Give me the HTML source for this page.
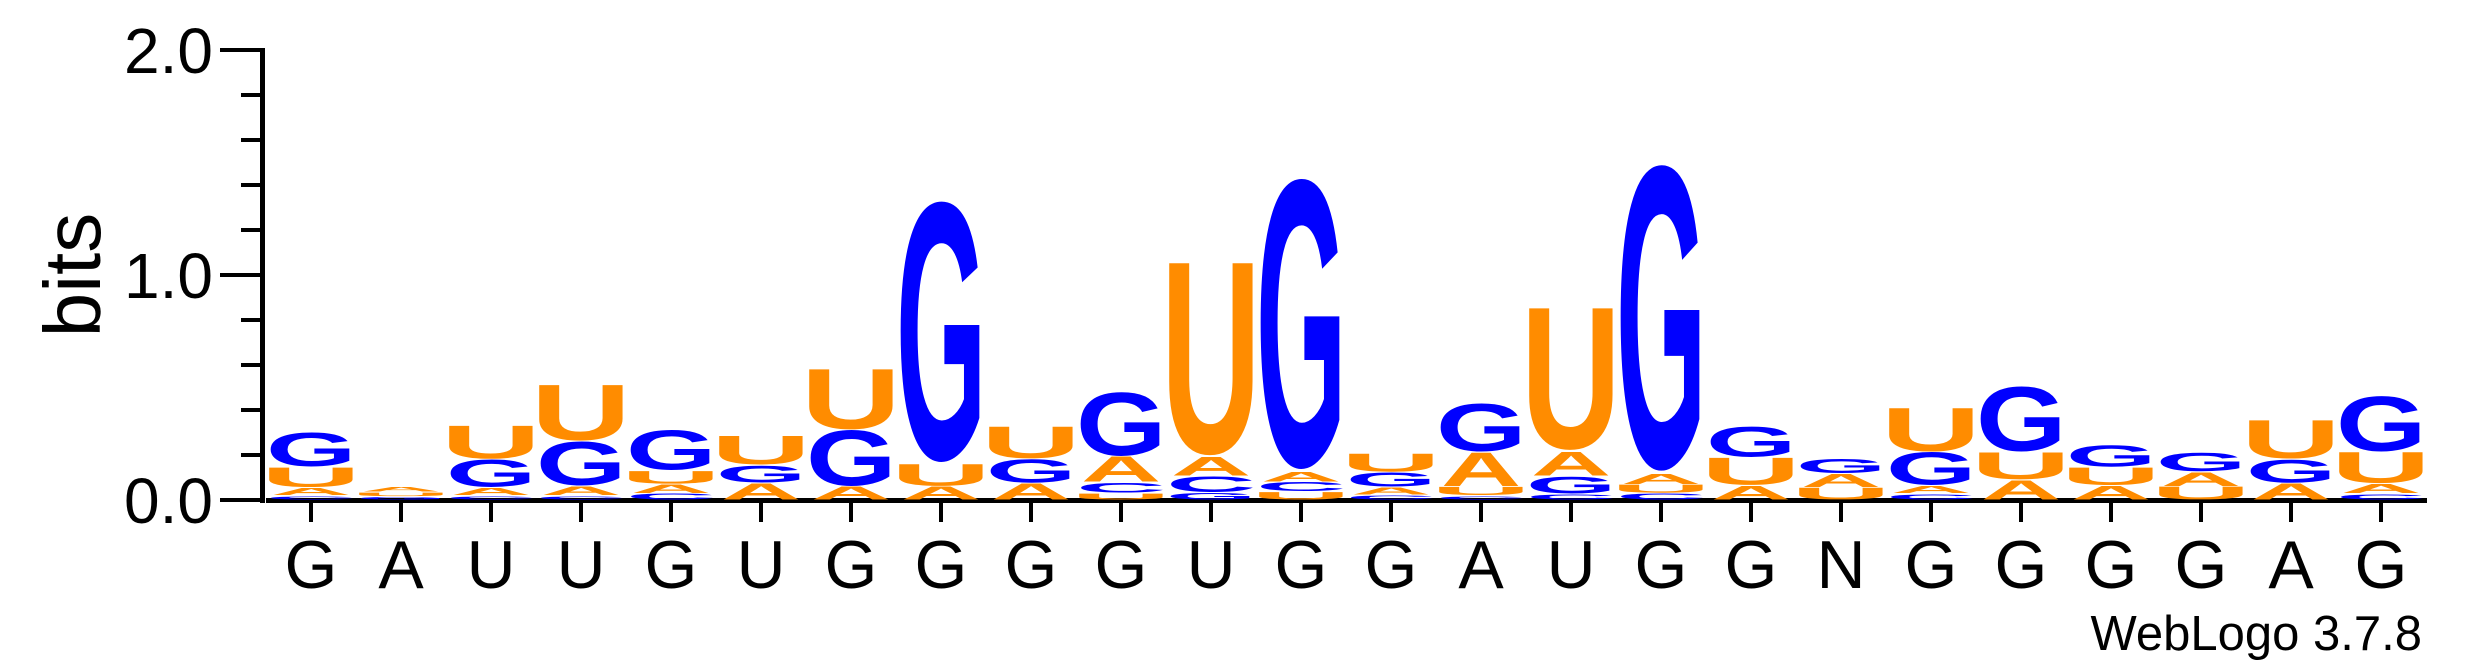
<!DOCTYPE html>
<html><head><meta charset="utf-8"><style>
html,body{margin:0;padding:0;background:#fff;}
svg{display:block;}
text{font-family:"Liberation Sans",sans-serif;}
</style></head><body>
<svg id="chart" width="2475" height="667" viewBox="0 0 2475 667" xmlns="http://www.w3.org/2000/svg">
<g id="axes"></g>
<g id="stacks"></g>
<text transform="translate(100,275) rotate(-90)" text-anchor="middle" font-size="80">bits</text>
<text x="2422" y="650" text-anchor="end" font-size="49">WebLogo 3.7.8</text>
</svg>
<script>
// Consensus labels per position
const positions = ["G","A","U","U","G","U","G","G","G","G","U","G","G","A","U","G","G","N","G","G","G","G","A","G"];
// Per-position letter heights in bits for A, C, G, U
const bitsA = [0.035,0.025,0.035,0.04,0.04,0.075,0.06,0.06,0.074,0.114,0.086,0.047,0.034,0.151,0.11,0.05,0.064,0.061,0.035,0.089,0.064,0.064,0.074,0.044];
const bitsC = [0.02,0.0,0.02,0.02,0.03,0.0,0.0,0.0,0.0,0.049,0.073,0.044,0.022,0.02,0.026,0.03,0.0,0.0,0.028,0.0,0.0,0.0,0.0,0.028];
const bitsG = [0.155,0.015,0.125,0.2,0.18,0.08,0.25,1.155,0.108,0.286,0.033,1.286,0.067,0.215,0.081,1.354,0.138,0.068,0.149,0.291,0.101,0.086,0.107,0.248];
const bitsU = [0.09,0.02,0.15,0.25,0.06,0.13,0.27,0.10,0.144,0.03,0.853,0.037,0.084,0.04,0.63,0.04,0.124,0.056,0.196,0.123,0.081,0.061,0.173,0.141];
const yTickLabels = ["0.0","1.0","2.0"];
const yTickValues = [0,1,2];

const NS="http://www.w3.org/2000/svg";
const X0=311, DX=90, Y0=500, PXB=225, COLW=80;
const xs=i=>X0+i*DX;
const ys=b=>Y0-b*PXB;
const axes=document.getElementById('axes');
const stacks=document.getElementById('stacks');
function mk(tag,attrs,parent){const e=document.createElementNS(NS,tag);for(const k in attrs)e.setAttribute(k,attrs[k]);parent.appendChild(e);return e;}

let yl=mk('rect',{x:260,y:ys(2)-2,width:5,height:ys(0)-ys(2)+5,fill:'#000'},axes);


let xl=mk('rect',{x:266,y:498,width:2427-266,height:5,fill:'#000'},axes);


for(let k=1;k<10;k++){if(k%5===0)continue;
  let t=mk('rect',{x:241,y:ys(k*0.2)-2,width:20,height:4,fill:'#000'},axes);
  
  
}
yTickValues.forEach((v,i)=>{
  let t=mk('rect',{x:220,y:ys(v)-2,width:41,height:4,fill:'#000'},axes);
  
  
  let l=mk('text',{x:213,y:ys(v)+23,'text-anchor':'end','font-size':64},axes);
  l.textContent=yTickLabels[i];
  
  
});
positions.forEach((p,i)=>{
  let t=mk('rect',{x:xs(i)-2,y:503,width:4,height:19,fill:'#000'},axes);
  
  
  let l=mk('text',{x:xs(i),y:588,'text-anchor':'middle','font-size':68},axes);
  l.textContent=p;
  
  
});

// glyph ink metrics at font-size 100 (Liberation Sans Bold approx)
const ink={A:[0,72,-68.5,0],C:[4,68,-69,1.4],G:[4.4,73,-69,1.4],U:[7.3,65,-68,1.4]};
const colors={A:'#ff8c00',C:'#0000ff',G:'#0000ff',U:'#ff8c00'};
positions.forEach((p,i)=>{
  const letters=[['A',bitsA[i]],['C',bitsC[i]],['G',bitsG[i]],['U',bitsU[i]]].filter(d=>d[1]>0.004);
  letters.sort((a,b)=>a[1]-b[1]);
  let base=0;
  letters.forEach(([L,b])=>{
    const yb=ys(base), yt=ys(base+b);
    const h=Math.max(0.5,(yb-yt)-1);
    const m=ink[L];
    const sx=COLW/(m[1]-m[0]), sy=h/(m[3]-m[2]);
    const g=mk('g',{transform:`translate(${xs(i)},${yb-0.5}) scale(${sx},${sy})`},stacks);
    const t=mk('text',{x:-(m[0]+m[1])/2,y:-m[3],'font-size':100,'font-weight':'bold',fill:colors[L]},g);
    t.textContent=L;
    
    
    base+=b;
  });
});
</script>
</body></html>
